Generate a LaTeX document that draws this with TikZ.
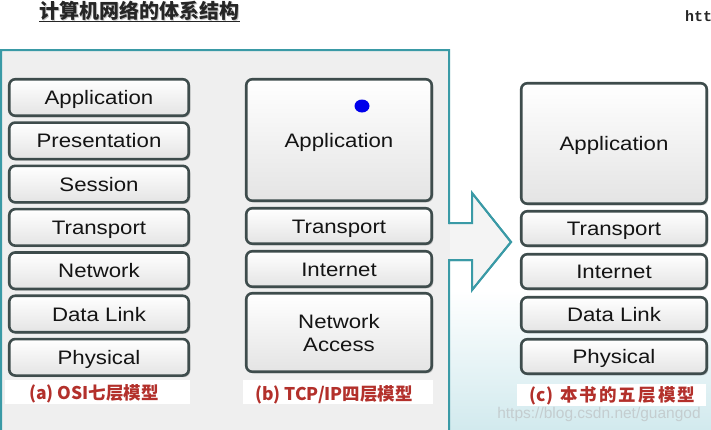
\documentclass[tikz,border=0pt]{standalone}
\usepackage{fontspec}
\setmainfont{Liberation Sans}
\newfontfamily\boxfont[FakeStretch=1.14]{Liberation Sans}
\newfontfamily\cjk{Noto Sans CJK SC}
\newfontfamily\cjkls[LetterSpace=12]{Noto Sans CJK SC}
\newfontfamily\monof{Liberation Mono}
\usetikzlibrary{shadows}
\definecolor{tealline}{HTML}{3A9AA6}
\definecolor{panelbg}{HTML}{EFEFEF}
\definecolor{arrowbg}{HTML}{F4F4F4}
\definecolor{cyanbg}{HTML}{D2EAEE}
\definecolor{boxline}{HTML}{3E4C4C}
\definecolor{boxbot}{HTML}{E4E4E4}
\definecolor{txt}{HTML}{141414}
\definecolor{capred}{HTML}{B3302B}
\definecolor{titlecol}{HTML}{262626}
\definecolor{wmark}{HTML}{C4CDCF}
\tikzset{
  layer/.style={draw=boxline, line width=2.6pt, rounded corners=6pt,
    top color=white, bottom color=boxbot, text=txt,
    font=\boxfont\fontsize{19.5}{23}\selectfont, align=center, inner sep=0pt,
    text height=14pt, text depth=0pt,
    drop shadow={shadow xshift=1.5pt, shadow yshift=-1.5pt, opacity=0.2, fill=black}},
  colL/.style={layer, minimum width=179.5pt},
  colM/.style={layer, minimum width=185.5pt},
  colR/.style={layer, minimum width=185.5pt},
  caption/.style={font=\cjk\bfseries\fontsize{17.5}{20}\selectfont, text=capred, inner sep=0pt},
  capbg/.style={fill=white},
}
\begin{document}
\begin{tikzpicture}[x=1pt,y=-1pt]
\useasboundingbox (0,0) rectangle (711,429);
\clip (0,0) rectangle (711,429);
\fill[white] (0,0) rectangle (711,429);
\shade[top color=white, bottom color=cyanbg] (449,290) rectangle (711,429);

% title
\node[font=\cjk\bfseries\fontsize{20}{22}\selectfont, text=gray!45, inner sep=0pt] at (140.8,12.2) {计算机网络的体系结构};
\node[font=\cjk\bfseries\fontsize{20}{22}\selectfont, text=titlecol, inner sep=0pt] (title) at (139.5,11) {计算机网络的体系结构};
\draw[titlecol, line width=1.3pt] (title.south west |- 0,21.5) -- (title.south east |- 0,21.5);
\node[font=\monof\bfseries\fontsize{15}{15}\selectfont, text=titlecol, anchor=base west, inner sep=0pt] (htt) at (685,21) {htt};

% panel with arrow
\draw[tealline, line width=2pt, fill=panelbg]
  (1,50) -- (449,50) -- (449,223) -- (472,223) -- (472,193) -- (511,242)
  -- (472,290) -- (472,260) -- (449,260) -- (449,440) -- (1,440) -- cycle;
\fill[arrowbg] (450,224) -- (473,224) -- (473,196) -- (509,242) -- (473,287) -- (473,259) -- (450,259) -- cycle;
\draw[tealline, line width=2pt]
  (449,223) -- (472,223) -- (472,193) -- (511,242) -- (472,290) -- (472,260) -- (449,260);

% caption backgrounds
\fill[capbg] (5,380) rectangle (190,404);
\fill[capbg] (243,380) rectangle (433,404);
\fill[capbg] (517,384) rectangle (706,406);

% (a) OSI
\node[colL, minimum height=36.5pt] (oA) at (99,97.5)  {Application};
\node[colL, minimum height=36.5pt] (oP) at (99,140.8) {Presentation};
\node[colL, minimum height=36.5pt] (oS) at (99,184.1) {Session};
\node[colL, minimum height=36.5pt] (oT) at (99,227.4) {Transport};
\node[colL, minimum height=36.5pt] (oN) at (99,270.7) {Network};
\node[colL, minimum height=36.5pt] (oD) at (99,314)   {Data Link};
\node[colL, minimum height=36.5pt] (oY) at (99,357.3) {Physical};
\node[caption] (capa) at (94,394) {(a) OSI七层模型};

% (b) TCP/IP
\node[colM, minimum height=121.5pt] (tA) at (339,140)   {Application};
\node[colM, minimum height=35.5pt]  (tT) at (339,226)   {Transport};
\node[colM, minimum height=35.5pt]  (tI) at (339,269)   {Internet};
\node[colM, minimum height=78.5pt, text height=37pt, text depth=0pt] (tN) at (339,332.5) {Network\\Access};
\node[caption] (capb) at (334,395) {(b) TCP/IP四层模型};
\fill[blue!92!black] (362,106) ellipse [x radius=7.5pt, y radius=6.5pt];

% (c) five layers
\node[colR, minimum height=120.5pt] (fA) at (614,143.5) {Application};
\node[colR, minimum height=34.5pt]  (fT) at (614,228.5) {Transport};
\node[colR, minimum height=34.5pt]  (fI) at (614,271.5) {Internet};
\node[colR, minimum height=34.5pt]  (fD) at (614,314.5) {Data Link};
\node[colR, minimum height=34.5pt]  (fY) at (614,356.5) {Physical};
\node[caption] (capc) at (612.5,395.5) {(c)\hspace{7pt}{\cjkls 本书的五层模型}};

% watermark
\node[font=\fontsize{15.5}{16}\selectfont, text=wmark, inner sep=0pt] (wm) at (599,414) {https://blog.csdn.net/guangod};
\end{tikzpicture}
\end{document}
